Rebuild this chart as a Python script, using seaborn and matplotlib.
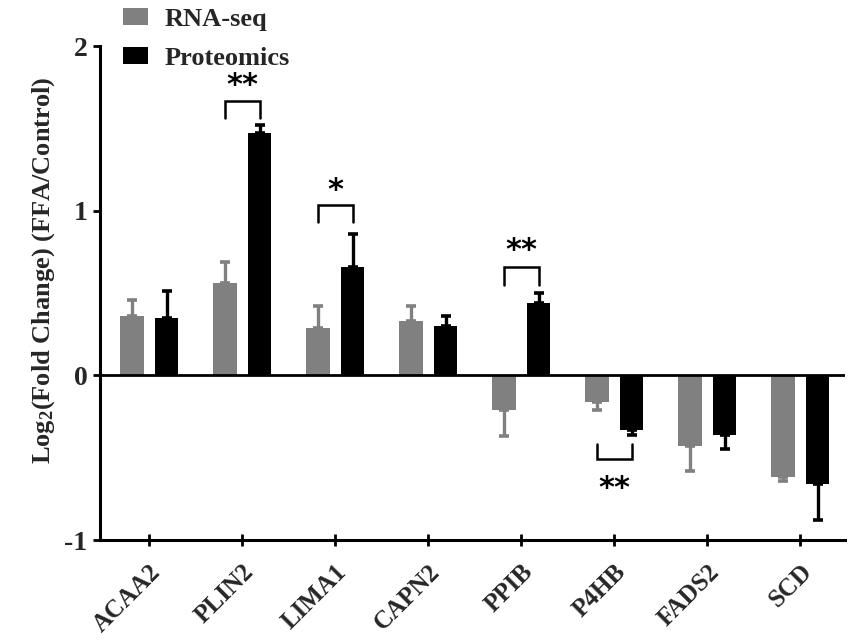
import numpy as np
import pandas as pd
import matplotlib
matplotlib.use("Agg")
import matplotlib.pyplot as plt
import matplotlib.transforms as mtransforms
import seaborn as sns
from matplotlib.patches import Patch

genes = ["ACAA2", "PLIN2", "LIMA1", "CAPN2", "PPIB", "P4HB", "FADS2", "SCD"]
rna_values = [0.36, 0.56, 0.29, 0.33, -0.21, -0.16, -0.43, -0.62]
rna_errors = [0.10, 0.13, 0.13, 0.09, 0.16, 0.05, 0.15, 0.02]
prot_values = [0.35, 1.47, 0.66, 0.30, 0.44, -0.33, -0.36, -0.66]
prot_errors = [0.16, 0.05, 0.20, 0.06, 0.06, 0.03, 0.09, 0.22]
series_names = ["RNA-seq", "Proteomics"]
series_colors = ["#808080", "#000000"]

# significance annotations: gene index, label, bracket level, leg end, star level
sig_gene = [1, 2, 4, 5]
sig_label = ["**", "*", "**", "**"]
sig_bar_y = [1.667, 1.036, 0.66, -0.51]
sig_leg_y = [1.56, 0.933, 0.55, -0.42]
sig_text_y = [1.76, 1.12, 0.76, -0.69]

sns.set_theme(style="white")
plt.rcParams["font.family"] = ["Liberation Serif", "DejaVu Serif"]
plt.rcParams["font.weight"] = "bold"
plt.rcParams["mathtext.fontset"] = "custom"
plt.rcParams["mathtext.rm"] = "Liberation Serif:bold"
plt.rcParams["mathtext.bf"] = "Liberation Serif:bold"
plt.rcParams["mathtext.it"] = "Liberation Serif:bold"

df = pd.DataFrame({
    "gene": genes * 2,
    "value": rna_values + prot_values,
    "series": [series_names[0]] * len(genes) + [series_names[1]] * len(genes),
})

fig = plt.figure(figsize=(8.51, 6.40), dpi=100)
ax = fig.add_axes([100 / 851, 1 - 540 / 640, (845 - 100) / 851, (540 - 46) / 640])

sns.barplot(data=df, x="gene", y="value", hue="series", order=genes,
            hue_order=series_names, palette=series_colors, width=0.75, gap=0.33,
            saturation=1, errorbar=None, legend=False, ax=ax, linewidth=0)

bar_containers = list(ax.containers)
errs = [rna_errors, prot_errors]
vals = [rna_values, prot_values]
bar_x = {}
for si, cont in enumerate(bar_containers):
    for gi, bar in enumerate(cont.patches):
        bar_x[(si, gi)] = bar.get_x() + bar.get_width() / 2

for si in range(2):
    for gi in range(len(genes)):
        xc = bar_x[(si, gi)]
        v = vals[si][gi]
        e = errs[si][gi]
        yerr = [[0], [e]] if v >= 0 else [[e], [0]]
        ax.errorbar([xc], [v], yerr=yerr, fmt="none", ecolor=series_colors[si],
                    elinewidth=2.4, capsize=3.8, capthick=2.6, zorder=3)

for g, lab, by, ly, ty in zip(sig_gene, sig_label, sig_bar_y, sig_leg_y, sig_text_y):
    x0, x1 = bar_x[(0, g)], bar_x[(1, g)]
    ax.plot([x0, x0, x1, x1], [ly, by, by, ly], color="black", lw=1.8,
            solid_joinstyle="miter", zorder=4)
    ax.text((x0 + x1) / 2, ty, lab, ha="center", va="center", fontsize=22,
            fontweight="bold", family="DejaVu Sans", color="black")

ax.axhline(0, color="black", lw=2.0, zorder=5)
ax.set_xlim(-0.53, 7.48)
ax.set_ylim(-1, 2)
ax.set_yticks([-1, 0, 1, 2])
ax.set_yticklabels(["-1", "0", "1", "2"], fontsize=20, fontweight="bold")
ax.set_xticks(range(len(genes)))
ax.set_xticklabels(genes, rotation=45, ha="right", rotation_mode="anchor",
                   fontsize=18, fontweight="bold")
offset = mtransforms.ScaledTranslation(9 / 100, 0, fig.dpi_scale_trans)
for lbl in ax.get_xticklabels():
    lbl.set_transform(lbl.get_transform() + offset)
ax.set_xlabel("")
ax.set_ylabel(r"Log$_{\mathbf{2}}$(Fold Change) (FFA/Control)", fontsize=19,
              fontweight="bold")
ax.yaxis.set_label_coords(-0.058, 0.545)
for s in ["top", "right"]:
    ax.spines[s].set_visible(False)
for s in ["left", "bottom"]:
    ax.spines[s].set_color("black")
    ax.spines[s].set_linewidth(2.2)
ax.tick_params(axis="y", direction="out", length=5, width=2, color="black", pad=4,
               left=True)
ax.tick_params(axis="x", direction="inout", length=9, width=2, color="black", pad=10,
               bottom=True)
ax.grid(False)

handles = [Patch(facecolor=c, edgecolor="none") for c in series_colors]
fig.legend(handles, series_names, loc="upper left", bbox_to_anchor=(0.144, 0.988),
           frameon=False, prop={"weight": "bold", "size": 19},
           handlelength=0.95, handleheight=0.65, handletextpad=0.65,
           labelspacing=0.6, borderpad=0, borderaxespad=0)

fig.savefig("out.png", dpi=100)
